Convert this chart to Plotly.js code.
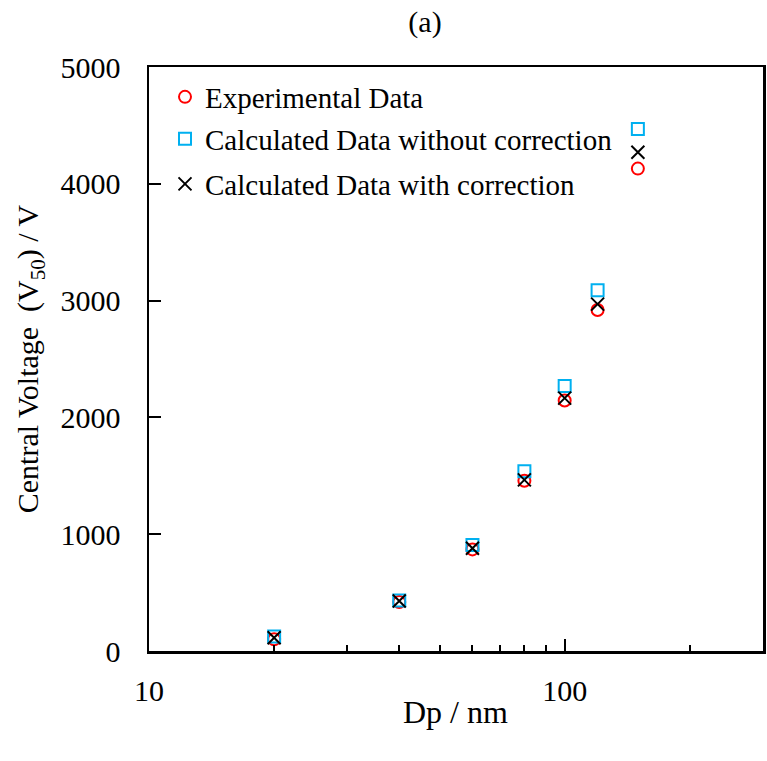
<!DOCTYPE html>
<html>
<head>
<meta charset="utf-8">
<script src="https://cdn.plot.ly/plotly-3.0.1.min.js"></script>
<style>html,body{margin:0;padding:0;background:#fff}#chart{width:767px;height:761px}</style>
</head>
<body>
<div id="chart"></div>
<script>
const dp = [20, 40, 60, 80, 100, 120, 150];
const experimental = [100, 420, 870, 1458, 2145, 2920, 4130];
const withoutCorrection = [125, 432, 907, 1540, 2268, 3088, 4470];
const withCorrection = [113, 428, 880, 1465, 2165, 2970, 4270];
const seriesNames = ["Experimental Data", "Calculated Data without correction", "Calculated Data with correction"];
const xTickVals = [10, 100];
const xTickText = ["10", "100"];
const xMinorVals = [20, 30, 40, 50, 60, 70, 80, 90, 200];
const yTickVals = [0, 1000, 2000, 3000, 4000, 5000];
const xTitle = "Dp / nm";
const yTitle = "Central Voltage  (V<sub>50</sub>) / V";
const chartTitle = "(a)";

const font = "Liberation Serif, Times New Roman, serif";

const traces = [
  {x: dp, y: experimental, name: seriesNames[0], mode: "markers", type: "scatter", legend: "legend",
   marker: {symbol: "circle-open", size: 12, color: "#FF0000", line: {width: 2, color: "#FF0000"}}},
  {x: dp, y: withoutCorrection, name: seriesNames[1], mode: "markers", type: "scatter", legend: "legend2",
   marker: {symbol: "square-open", size: 12, color: "#00B0F0", line: {width: 2, color: "#00B0F0"}}},
  {x: dp, y: withCorrection, name: seriesNames[2], mode: "markers", type: "scatter", legend: "legend3",
   marker: {symbol: "x-thin-open", size: 13, color: "#000000", line: {width: 2, color: "#000000"}}}
];

const plotLeft = 149, plotRight = 763, plotW = plotRight - plotLeft;
const plotTop = 67, plotBottom = 651, plotH = plotBottom - plotTop;
function ly(py) { return (plotBottom - py) / plotH; }
function lx(px) { return (px - plotLeft) / plotW; }

const legendBase = {
  xref: "paper", yref: "paper", xanchor: "left", yanchor: "middle",
  bgcolor: "rgba(0,0,0,0)", borderwidth: 0,
  font: {family: font, size: 29, color: "#000"},
  itemwidth: 30
};

const layout = {
  width: 767, height: 761,
  margin: {l: 149, r: 4, t: 67, b: 110},
  paper_bgcolor: "#fff", plot_bgcolor: "#fff",
  font: {family: font, size: 30, color: "#000"},
  title: {text: chartTitle, font: {family: font, size: 30, color: "#000"},
          xref: "container", x: 425/767, xanchor: "center",
          yref: "container", y: 1 - 21/761, yanchor: "middle"},
  showlegend: true,
  legend: Object.assign({}, legendBase, {x: lx(165), y: ly(97)}),
  legend2: Object.assign({}, legendBase, {x: lx(165), y: ly(139)}),
  legend3: Object.assign({}, legendBase, {x: lx(165), y: ly(184)}),
  annotations: [
    {text: xTitle, xref: "paper", yref: "paper", x: (455 - plotLeft) / plotW, y: -(712 - plotBottom) / plotH,
     xanchor: "center", yanchor: "middle", showarrow: false,
     font: {family: font, size: 32, color: "#000"}}
  ],
  xaxis: {
    type: "log", range: [1, Math.log10(300)],
    tickmode: "array", tickvals: xTickVals, ticktext: xTickText,
    ticks: "inside", ticklen: 12, tickwidth: 2, tickcolor: "#000",
    minor: {tickmode: "array", tickvals: xMinorVals, ticks: "inside", ticklen: 6, tickwidth: 2, tickcolor: "#000", showgrid: false},
    showline: true, linewidth: 2.5, linecolor: "#000", mirror: true,
    showgrid: false, zeroline: false,
    tickfont: {family: font, size: 30, color: "#000"},
    ticklabelstandoff: 11
  },
  yaxis: {
    range: [0, 5000],
    tickmode: "array", tickvals: yTickVals,
    ticks: "inside", ticklen: 12, tickwidth: 2, tickcolor: "#000",
    showline: true, linewidth: 2.5, linecolor: "#000", mirror: true,
    showgrid: false, zeroline: false,
    tickfont: {family: font, size: 30, color: "#000"},
    ticklabelstandoff: 20,
    title: {text: yTitle, font: {family: font, size: 30, color: "#000"}, standoff: 13}
  }
};

Plotly.newPlot("chart", traces, layout, {displayModeBar: false, staticPlot: true});
</script>
</body>
</html>
